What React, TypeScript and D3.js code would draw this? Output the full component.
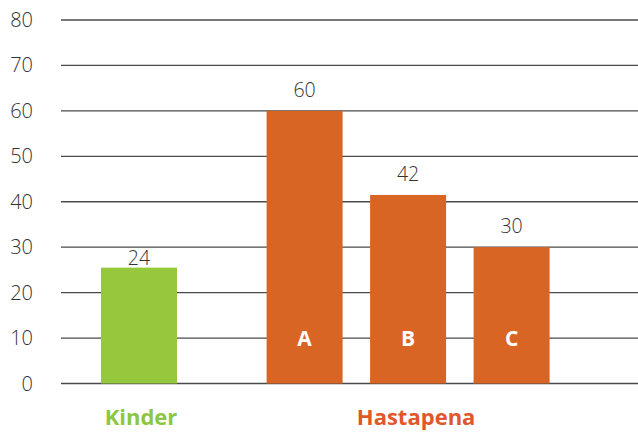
import React, { useEffect, useRef } from 'react';
import * as d3 from 'd3';

const barNames = ['Kinder', 'A', 'B', 'C'];
const barGroups = ['Kinder', 'Hastapena', 'Hastapena', 'Hastapena'];
const barValues = [25.5, 60, 41.5, 30];
const valueLabels = ['24', '60', '42', '30'];
const groupNames = ['Kinder', 'Hastapena'];
const yTicks = [0, 10, 20, 30, 40, 50, 60, 70, 80];

const W = 638;
const H = 432;
const barColor = { Kinder: '#95c83d', Hastapena: '#d96525' };
const groupTextColor = { Kinder: '#8dc63f', Hastapena: '#e0572b' };
const groupShift = { Kinder: 2, Hastapena: 8 };

const App = () => {
  const ref = useRef<SVGSVGElement>(null);

  useEffect(() => {
    const svg = d3.select(ref.current);
    svg.selectAll('*').remove();

    const y = d3.scaleLinear().domain([0, 80]).range([383.5, 20]);
    // slot scale: one step per bar, with extra space between the groups
    const x = d3.scaleLinear().domain([0, 1]).range([101, 204.5]);
    const bw = 76;
    const slot = (i: number) => i + (barGroups[i] === 'Hastapena' ? 0.6 : 0);

    const font = "'Open Sans', 'DejaVu Sans', sans-serif";

    // grid
    svg
      .append('g')
      .selectAll('line')
      .data(yTicks)
      .enter()
      .append('line')
      .attr('x1', 61)
      .attr('x2', W)
      .attr('y1', (d) => y(d))
      .attr('y2', (d) => y(d))
      .attr('stroke', '#4a4a4a')
      .attr('stroke-width', 1.3);

    // y tick labels
    svg
      .append('g')
      .selectAll('text')
      .data(yTicks)
      .enter()
      .append('text')
      .attr('x', 33)
      .attr('y', (d) => y(d))
      .attr('dy', '0.35em')
      .attr('text-anchor', 'end')
      .attr('font-family', font)
      .attr('font-weight', 300)
      .attr('font-size', 20)
      .attr('fill', '#333')
      .text((d) => d);

    // bars
    svg
      .append('g')
      .selectAll('rect')
      .data(barValues)
      .enter()
      .append('rect')
      .attr('x', (d, i) => x(slot(i)))
      .attr('y', (d) => y(d))
      .attr('width', bw)
      .attr('height', (d) => y(0) - y(d))
      .attr('fill', (d, i) => barColor[barGroups[i]]);

    // value labels
    svg
      .append('g')
      .selectAll('text')
      .data(barValues)
      .enter()
      .append('text')
      .attr('x', (d, i) => x(slot(i)) + bw / 2)
      .attr('y', (d, i) => y(d) - (barGroups[i] === 'Kinder' ? 3 : 14))
      .attr('text-anchor', 'middle')
      .attr('font-family', font)
      .attr('font-weight', 300)
      .attr('font-size', 19.5)
      .attr('fill', '#333')
      .text((d, i) => valueLabels[i]);

    // letters inside bars
    svg
      .append('g')
      .selectAll('text')
      .data(barNames.filter((n, i) => barGroups[i] === 'Hastapena'))
      .enter()
      .append('text')
      .attr('x', (d) => x(slot(barNames.indexOf(d))) + bw / 2)
      .attr('y', y(10))
      .attr('dy', '0.36em')
      .attr('text-anchor', 'middle')
      .attr('font-family', font)
      .attr('font-weight', 700)
      .attr('font-size', 21)
      .attr('fill', '#fff')
      .text((d) => d);

    // group labels
    svg
      .append('g')
      .selectAll('text')
      .data(groupNames)
      .enter()
      .append('text')
      .attr('x', (g) => {
        const idx = barGroups.map((b, i) => (b === g ? i : -1)).filter((i) => i >= 0);
        const x0 = x(slot(idx[0]));
        const x1 = x(slot(idx[idx.length - 1])) + bw;
        return (x0 + x1) / 2 + groupShift[g];
      })
      .attr('y', 417)
      .attr('dy', '0.36em')
      .attr('text-anchor', 'middle')
      .attr('font-family', font)
      .attr('font-weight', 700)
      .attr('font-size', 22)
      .attr('fill', (g) => groupTextColor[g])
      .text((g) => g);
  }, []);

  return (
    <svg
      ref={ref}
      width={W}
      height={H}
      style={{ position: 'absolute', left: 0, top: 0, background: '#fff' }}
    />
  );
};

export default App;
